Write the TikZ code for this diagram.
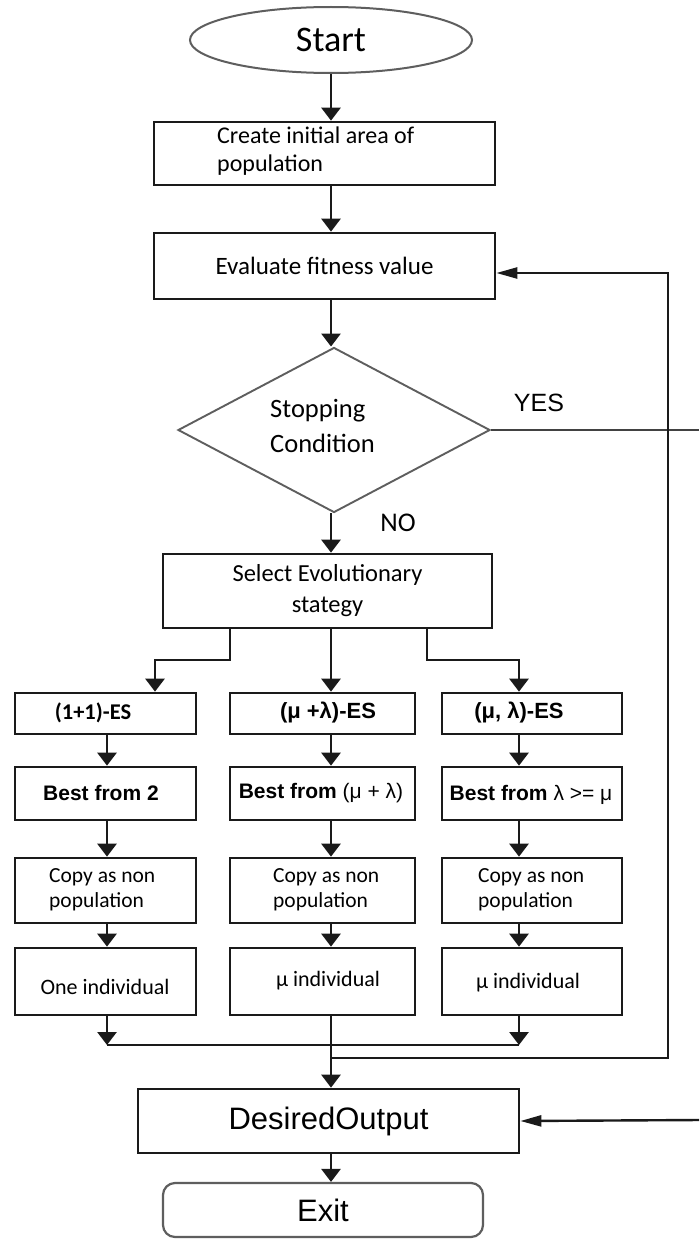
\documentclass[tikz,border=0pt]{standalone}
\usepackage{fontspec}
\setmainfont{Carlito}
\newfontfamily\arialfont{Liberation Sans}
\usetikzlibrary{shapes.geometric,arrows.meta}
\definecolor{linec}{HTML}{1A1A1A}
\definecolor{greyc}{HTML}{5E5E5E}
\newcommand{\fs}[2]{\fontsize{#1}{#2}\selectfont}
\begin{document}
\begin{tikzpicture}[x=1pt,y=-1pt,
  box/.style={draw=linec, line width=2.7pt, rectangle, inner sep=0pt},
  flow/.style={draw=linec, line width=2.8pt, -{Triangle[width=19pt,length=13pt]}},
  plain/.style={draw=linec, line width=2.8pt},
  back/.style={draw=linec, line width=2.4pt, -{Triangle[width=11pt,length=21pt]}},
  txt/.style={inner sep=0pt, text=black},
]
\fill[white] (0,0) rectangle (699,1239);
\useasboundingbox (0,0) rectangle (699,1239);

% column and junction coordinates
\coordinate (trunk) at (331,0);
\coordinate (colL) at (107,0);
\coordinate (colR) at (519,0);
\coordinate (brL) at (230,660);
\coordinate (brR) at (427,660);
\coordinate (inL) at (155,660);
\coordinate (inR) at (519,660);
\coordinate (mL) at (107,1045);
\coordinate (mR) at (519,1045);
\coordinate (loopstart) at (331,1058);
\coordinate (loopcorner) at (668,273);
\coordinate (yesend) at (699,430);
\coordinate (outfrom) at (699,1120);

% main column
\node[draw=greyc, line width=2pt, ellipse, minimum width=282pt, minimum height=66pt,
      inner sep=0pt, font=\fs{36}{40}] (start) at (331,40) {Start};
\node[box, minimum width=341pt, minimum height=63pt] (create) at (324.5,153.5) {};
\node[txt, anchor=west, align=left, font=\fs{24}{28}] (createtxt) at (217,151)
     {Create initial area of\\population};
\node[box, minimum width=341pt, minimum height=66pt, font=\fs{25}{28}] (eval) at (324.5,266)
     {Evaluate fitness value};
\node[draw=greyc, line width=1.9pt, diamond, minimum width=312pt, minimum height=165pt,
      inner sep=0pt] (cond) at (334,430) {};
\node[txt, anchor=west, align=left, font=\fs{26.5}{35}] (condtxt) at (270,426)
     {Stopping\\Condition};
\node[txt, font=\arialfont\fs{25}{30}] (yes) at (539,403) {YES};
\node[txt, font=\fs{27}{30}] (no) at (398,523) {NO};
\node[box, minimum width=329pt, minimum height=74pt, align=center, font=\fs{24.5}{31}]
     (select) at (327.5,591) {Select Evolutionary\\stategy};

% strategy boxes
\foreach \n/\cx/\w in {1/105.5/181, 2/322.5/185, 3/532/180}{
  \node[box, minimum width=\w pt, minimum height=41pt] (es\n)   at (\cx,713.5) {};
  \node[box, minimum width=\w pt, minimum height=53pt] (best\n) at (\cx,793.5) {};
  \node[box, minimum width=\w pt, minimum height=65pt] (copy\n) at (\cx,890.5) {};
  \node[box, minimum width=\w pt, minimum height=67pt] (ind\n)  at (\cx,981.5) {};
}
\node[txt, font=\bfseries\fs{22.5}{26}] (es1txt) at (93,713) {(1+1)-ES};
\node[txt, font=\arialfont\bfseries\fs{22}{26}] (es2txt) at (328,713) {(μ +λ)-ES};
\node[txt, font=\arialfont\bfseries\fs{22}{26}] (es3txt) at (519,713) {(μ, λ)-ES};
\node[txt, font=\arialfont\fs{21}{24}] (best1txt) at (101,793) {\textbf{Best from 2}};
\node[txt, font=\arialfont\fs{21}{24}] (best2txt) at (321,793) {\textbf{Best from} (μ + λ)};
\node[txt, font=\arialfont\fs{21}{24}] (best3txt) at (531,795) {\textbf{Best from} λ >= μ};
\node[txt, anchor=west, align=left, font=\fs{21.5}{25}] (copy1txt) at (49,890) {Copy as non\\population};
\node[txt, anchor=west, align=left, font=\fs{21.5}{25}] (copy2txt) at (273,890) {Copy as non\\population};
\node[txt, anchor=west, align=left, font=\fs{21.5}{25}] (copy3txt) at (478,890) {Copy as non\\population};
\node[txt, font=\fs{22}{26}] (ind1txt) at (105,987) {One individual};
\node[txt, font=\fs{22}{26}] (ind2txt) at (328,981) {μ individual};
\node[txt, font=\fs{22}{26}] (ind3txt) at (528,983) {μ individual};

% output and exit
\node[box, minimum width=381pt, minimum height=64pt, font=\arialfont\fs{31}{36}] (out)
     at (328.5,1121) {DesiredOutput};
\node[draw=greyc, line width=2.2pt, rounded corners=12pt, minimum width=320pt, minimum height=54pt,
      inner sep=0pt, font=\arialfont\fs{31}{36}] (exit) at (323,1210) {Exit};

% connectors
\draw[flow] (start.south -| trunk) -- (create.north -| trunk);
\draw[flow] (create.south -| trunk) -- (eval.north -| trunk);
\draw[flow] (eval.south -| trunk) -- (cond.north -| trunk);
\draw[flow] (cond.south -| trunk) -- (select.north -| trunk);
\draw[draw=greyc!70!black, line width=2pt] (cond.east) -- (yesend);

\draw[flow] (select.south -| brL) -- (brL) -- (inL) -- (es1.north -| inL);
\draw[flow] (select.south -| trunk) -- (es2.north -| trunk);
\draw[flow] (select.south -| brR) -- (brR) -- (inR) -- (es3.north -| inR);

\foreach \c/\k in {colL/1, trunk/2, colR/3}{
  \draw[flow] (es\k.south -| \c) -- (best\k.north -| \c);
  \draw[flow] (best\k.south -| \c) -- (copy\k.north -| \c);
  \draw[flow] (copy\k.south -| \c) -- (ind\k.north -| \c);
}
\draw[flow] (ind1.south -| colL) -- (mL);
\draw[flow] (ind3.south -| colR) -- (mR);
\draw[plain] (mL) -- (mR);
\draw[flow] (ind2.south -| trunk) -- (out.north -| trunk);

\draw[back] (loopstart) -| (loopcorner) -- ([yshift=-7pt]eval.east);
\draw[back] (outfrom) -- (out.east);
\draw[flow] (out.south -| trunk) -- (exit.north -| trunk);
\end{tikzpicture}
\end{document}
